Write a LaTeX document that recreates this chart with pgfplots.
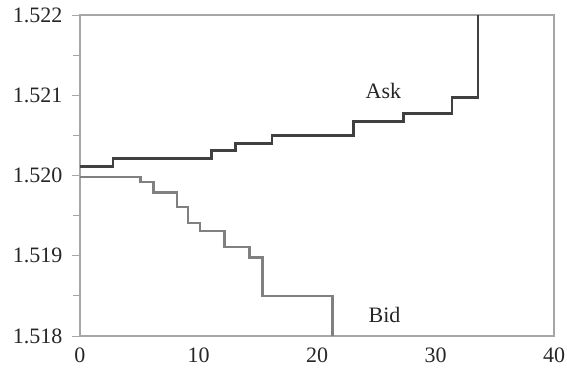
\documentclass[border=0pt]{standalone}
\usepackage{fontspec}
\setmainfont{Liberation Serif}
\usepackage{pgfplots}
\pgfplotsset{compat=1.18}
\begin{document}
\begin{tikzpicture}
\begin{axis}[
  scale only axis,
  width=474pt, height=321pt,
  xmin=0, xmax=40, ymin=1.518, ymax=1.522,
  xtick={0,10,20,30,40},
  ytick={1.518,1.519,1.520,1.521,1.522},
  minor y tick num=1,
  ytick pos=left,
  tick align=outside,
  major tick length=8pt, minor tick length=7pt,
  x tick style={draw=none},
  y tick style={draw=gray!70, line width=1pt},
  axis line style={draw=gray!70, line width=1.3pt},
  /pgf/number format/assume math mode=true,
  yticklabel style={/pgf/number format/fixed, /pgf/number format/fixed zerofill, /pgf/number format/precision=3, xshift=-6pt},
  scaled y ticks=false,
  tick label style={font=\fontsize{22}{26}\selectfont, black!85},
  clip=false,
]
\coordinate (ll) at (rel axis cs:0,0);
\addplot[const plot, draw=black!75, line width=2.6pt] coordinates {
 (0,1.52011) (2.8,1.52021) (11.1,1.52031) (13.1,1.52040) (16.2,1.52050)
 (23.1,1.52067) (27.3,1.52077) (31.4,1.52097) (33.6,1.522)
};
\addplot[const plot, draw=black!50, line width=2.3pt] coordinates {
 (0,1.51998) (5.1,1.51992) (6.2,1.51979) (8.2,1.51961) (9.1,1.51941)
 (10.1,1.51931) (12.2,1.51911) (14.3,1.51898) (15.4,1.51850) (21.3,1.518)
};
\node[font=\fontsize{22}{26}\selectfont, text=black!85] at (axis cs:25.6,1.52105) {Ask};
\node[font=\fontsize{22}{26}\selectfont, text=black!85] at (axis cs:25.7,1.51826) {Bid};
\end{axis}
\pgfresetboundingbox
\path[use as bounding box] ([shift={(-80pt,-31pt)}]ll) rectangle ([shift={(487pt,336pt)}]ll);
\end{tikzpicture}
\end{document}
